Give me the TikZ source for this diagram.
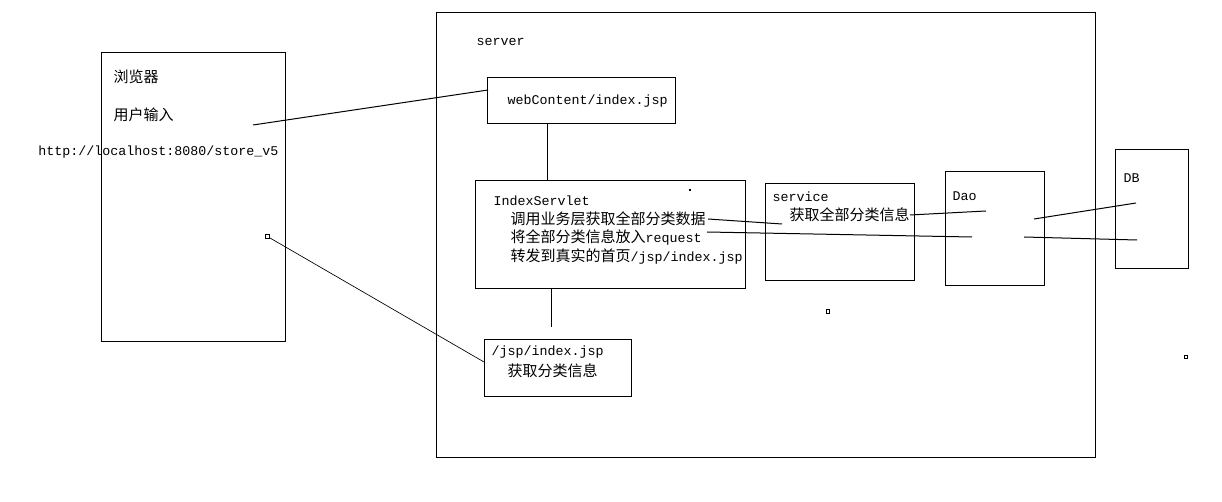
\documentclass[tikz,border=0pt]{standalone}
\usepackage{fontspec}
\setmainfont{Liberation Mono}
\newfontfamily\cjk{Noto Sans CJK SC}[Scale=1.125]
\usetikzlibrary{positioning}

\begin{document}
\begin{tikzpicture}[x=0.75pt,y=-0.75pt,line width=0.75pt,
		font=\fontsize{10}{12}\selectfont,
		box/.style={draw,rectangle,inner sep=0pt},
		txt/.style={anchor=west,inner sep=0pt}]
		\useasboundingbox (0,0) rectangle (1222,502);

		% boxes
		\node[box,minimum width=138pt,minimum height=216.75pt]    (browser) at (193,197.5)  {};
		\node[box,minimum width=494.25pt,minimum height=333.75pt] (server)  at (765.5,235.5) {};
		\node[box,minimum width=141pt,minimum height=34.5pt]      (web)     at (581,101)    {};
		\node[box,minimum width=202.5pt,minimum height=81pt]      (servlet) at (610,235)    {};
		\node[box,minimum width=111.75pt,minimum height=72.75pt]  (service) at (839.5,232.5) {};
		\node[box,minimum width=74.25pt,minimum height=85.5pt]    (dao)     at (994.5,229)  {};
		\node[box,minimum width=54.75pt,minimum height=89.25pt]   (db)      at (1151.5,209.5) {};
		\node[box,minimum width=110.25pt,minimum height=42.75pt]  (jsp)     at (557.5,368.5) {};

		% texts
		\node[txt] (browserlbl) at (113,77)  {\cjk 浏览器};
		\node[txt] (input)      at (113,115) {\cjk 用户输入};
		\node[txt] (url)        at (38,152)  {http://localhost:8080/store\_v5};
		\node[txt] (serverlbl)  at (476,42)  {server};
		\node[txt] (weblbl)     at (507,101) {webContent/index.jsp};
		\node[txt] (servletlbl) at (493,201) {IndexServlet};
		\node[txt] (call)       at (510,219) {\cjk 调用业务层获取全部分类数据};
		\node[txt] (put)        at (510,238) {{\cjk 将全部分类信息放入}request};
		\node[txt] (forward)    at (510,257) {{\cjk 转发到真实的首页}/jsp/index.jsp};
		\node[txt] (servicelbl) at (772,197) {service};
		\node[txt] (info)       at (789,215) {\cjk 获取全部分类信息};
		\node[txt] (daolbl)     at (952,196) {Dao};
		\node[txt] (dblbl)      at (1123,178) {DB};
		\node[txt] (jsplbl)     at (491,352) {/jsp/index.jsp};
		\node[txt] (jspinfo)    at (507,371) {\cjk 获取分类信息};

		% connector ends
		\coordinate (b1) at (253,125);
		\coordinate (w1) at (488,90);
		\coordinate (w2) at (547,124);
		\coordinate (s1) at (547,181);
		\coordinate (s2) at (551,289);
		\coordinate (s3) at (551,327);
		\coordinate (b2) at (270,238);
		\coordinate (j1) at (484,362);
		\coordinate (c1) at (708,219);
		\coordinate (c2) at (782,224);
		\coordinate (p1) at (707,232);
		\coordinate (p2) at (972,237);
		\coordinate (d1) at (986,211);
		\coordinate (d2) at (1034,219);
		\coordinate (d3) at (1024,237);
		\coordinate (e1) at (1136,203);
		\coordinate (e2) at (1137,240);

		\draw (b1) -- (w1);
		\draw (w2) -- (s1);
		\draw (s2) -- (s3);
		\draw[line width=0.5pt] (b2) -- (j1);
		\draw (c1) -- (c2);
		\draw (p1) -- (p2);
		\draw (info.east) -- (d1);
		\draw (d2) -- (e1);
		\draw (d3) -- (e2);

		% stray marks
		\draw[line width=0.5pt] (265,234) rectangle (269,238);
		\fill (689,189) rectangle (691,191);
		\draw[line width=0.5pt] (826,309) rectangle (829,313);
		\draw[line width=0.5pt] (1184,355) rectangle (1187,358);
\end{tikzpicture}
\end{document}
